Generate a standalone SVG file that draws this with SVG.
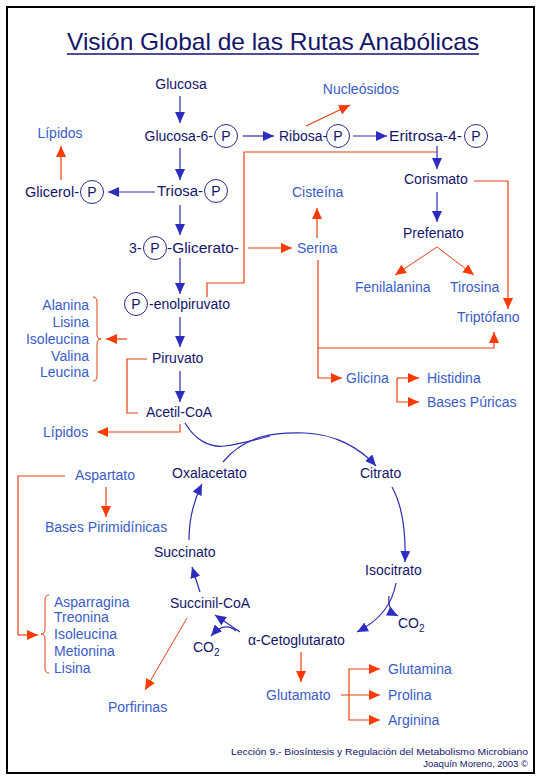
<svg xmlns="http://www.w3.org/2000/svg" width="540" height="780" viewBox="0 0 540 780">
<style>
text{font-family:"Liberation Sans",Arial,sans-serif;font-size:14px}
.d{fill:#14146a}
.l{fill:#3a5cc8}
.ft{fill:#14146a;font-size:9.5px}
.pc{fill:none;stroke:#2a2a88;stroke-width:1}
.b{fill:none;stroke:#2c2cb0;stroke-width:1.2}
.r{fill:none;stroke:#e8400f;stroke-width:1.2}
.rb{fill:none;stroke:#e8400f;stroke-width:1}
.ba{marker-end:url(#hb)}
.ra{marker-end:url(#hr)}
</style>
<defs>
<marker id="hb" markerUnits="userSpaceOnUse" markerWidth="11" markerHeight="10" refX="11" refY="5" orient="auto"><path d="M0,0 L11,5 L0,10 z" fill="#2c2cc0"/></marker>
<marker id="hr" markerUnits="userSpaceOnUse" markerWidth="11" markerHeight="10" refX="11" refY="5" orient="auto"><path d="M0,0 L11,5 L0,10 z" fill="#ff3a00"/></marker>
</defs>
<rect x="7" y="7" width="527" height="766" fill="#fff" stroke="#000" stroke-width="2"/>
<g id="title">
<text x="67" y="50" style="font-size:24px" class="d" textLength="412" lengthAdjust="spacingAndGlyphs">Visión Global de las Rutas Anabólicas</text>
<line x1="67" y1="54" x2="479" y2="54" stroke="#14146a" stroke-width="1.5"/>
</g>
<g id="connectors">
<path class="b ba" d="M180,96 V123"/>
<path class="b ba" d="M243,136 H274"/>
<path class="b ba" d="M353,136 H387"/>
<path class="r ra" d="M306,126 L350,105"/>
<path class="r ra" d="M61,180 V146"/>
<path class="b ba" d="M180,148 V180"/>
<path class="b ba" d="M155,192 H108"/>
<path class="b ba" d="M180,205 V235"/>
<path class="r ra" d="M248,248 H292"/>
<path class="r ra" d="M317,238 V208"/>
<path class="b ba" d="M180,258 V294"/>
<path class="r" d="M207,297 V283 H244 V152 H437"/>
<path class="b ba" d="M180,317 V347"/>
<path class="b ba" d="M180,371 V402"/>
<path class="r" d="M147,359 H127 V413 H138"/>
<path class="r ra" d="M127,339 H106"/>
<path class="r ra" d="M180,424 V432 H97"/>
<path class="b ba" d="M437,146 V169"/>
<path class="r ra" d="M474,181 H508 V309"/>
<path class="b ba" d="M437,192 V222"/>
<path class="rb ra" d="M437,247 L395,275"/>
<path class="rb ra" d="M437,247 L474,275"/>
<path class="r ra" d="M318,260 V348 H494 V332"/>
<path class="r ra" d="M318,348 V378 H342"/>
<path class="r ra" d="M397,378 H419"/>
<path class="r ra" d="M397,378 V402 H419"/>
<path class="b ba" d="M223,462 C245,435 275,432 305,433 C335,434 360,448 376,466"/>
<path class="b" d="M185,423 C195,440 210,448 225,446 C240,444 255,440 270,436"/>
<path class="b ba" d="M392,487 C402,505 406,530 405,562"/>
<path class="b ba" d="M396,583 C392,605 380,620 357,632"/>
<path class="b ba" d="M389,596 C388,605 390,612 398,616"/>
<path class="b ba" d="M240,632 L215,615"/>
<path class="b ba" d="M236,631 C228,624 220,626 211,636"/>
<path class="b ba" d="M200,592 L192,567"/>
<path class="b ba" d="M189,540 C189,520 194,500 202,484"/>
<path class="r" d="M65,476 H18 V635"/>
<path class="r ra" d="M18,635 H38"/>
<path class="r ra" d="M106,487 V517"/>
<path class="rb ra" d="M187,618 L145,690"/>
<path class="r ra" d="M301,652 V682"/>
<path class="r ra" d="M341,695 H380"/>
<path class="r ra" d="M349,695 V669 H380"/>
<path class="r ra" d="M349,695 V720 H380"/>
<path class="rb" d="M93,297 Q97,297 97,302 V334 Q97,339 101,339 Q97,339 97,344 V376 Q97,381 93,381"/>
<path class="rb" d="M49,595 Q45,595 45,600 V629 Q45,634 41,634 Q45,634 45,639 V668 Q45,673 49,673"/>
</g>
<g id="glucosa"><text class="d" x="181" y="89" text-anchor="middle">Glucosa</text></g>
<g id="glucosa6p"><text class="d" x="213" y="141" text-anchor="end">Glucosa-6-</text><circle class="pc" cx="226" cy="136" r="11.5"/><text class="d" x="226" y="141" text-anchor="middle">P</text></g>
<g id="ribosa"><text class="d" x="279" y="141">Ribosa-</text><circle class="pc" cx="338" cy="136" r="11.5"/><text class="d" x="338" y="141" text-anchor="middle">P</text></g>
<g id="eritrosa"><text class="d" x="389" y="141" textLength="73" lengthAdjust="spacingAndGlyphs">Eritrosa-4-</text><circle class="pc" cx="476" cy="136" r="11.5"/><text class="d" x="476" y="141" text-anchor="middle">P</text></g>
<g id="nucleosidos"><text class="l" x="361" y="94" text-anchor="middle">Nucleósidos</text></g>
<g id="lipidos1"><text class="l" x="60" y="138" text-anchor="middle">Lípidos</text></g>
<g id="triosa"><text class="d" x="157" y="196" textLength="46" lengthAdjust="spacingAndGlyphs">Triosa-</text><circle class="pc" cx="216" cy="191" r="11.5"/><text class="d" x="216" y="196" text-anchor="middle">P</text></g>
<g id="glicerol"><text class="d" x="25" y="197" textLength="54" lengthAdjust="spacingAndGlyphs">Glicerol-</text><circle class="pc" cx="92" cy="192" r="11.5"/><text class="d" x="92" y="197" text-anchor="middle">P</text></g>
<g id="glicerato"><text class="d" x="129" y="253">3-</text><circle class="pc" cx="155" cy="248" r="11.5"/><text class="d" x="155" y="253" text-anchor="middle">P</text><text class="d" x="167" y="253" textLength="72" lengthAdjust="spacingAndGlyphs">-Glicerato-</text></g>
<g id="serina"><text class="l" x="297" y="253">Serina</text></g>
<g id="cisteina"><text class="l" x="292" y="197">Cisteína</text></g>
<g id="pep"><circle class="pc" cx="136" cy="304" r="11.5"/><text class="d" x="136" y="309" text-anchor="middle">P</text><text class="d" x="149" y="309">-enolpiruvato</text></g>
<g id="piruvato"><text class="d" x="152" y="363">Piruvato</text></g>
<g id="acetilcoa"><text class="d" x="146" y="417">Acetil-CoA</text></g>
<g id="aa1"><text class="l" x="89" y="310" text-anchor="end">Alanina</text><text class="l" x="89" y="327" text-anchor="end">Lisina</text><text class="l" x="89" y="344" text-anchor="end">Isoleucina</text><text class="l" x="89" y="361" text-anchor="end">Valina</text><text class="l" x="89" y="377" text-anchor="end">Leucina</text></g>
<g id="lipidos2"><text class="l" x="43" y="437">Lípidos</text></g>
<g id="corismato"><text class="d" x="404" y="184">Corismato</text></g>
<g id="prefenato"><text class="d" x="403" y="238">Prefenato</text></g>
<g id="fenilalanina"><text class="l" x="355" y="292">Fenilalanina</text></g>
<g id="tirosina"><text class="l" x="450" y="292">Tirosina</text></g>
<g id="triptofano"><text class="l" x="457" y="322">Triptófano</text></g>
<g id="glicina"><text class="l" x="346" y="383">Glicina</text></g>
<g id="histidina"><text class="l" x="427" y="383">Histidina</text></g>
<g id="basespuricas"><text class="l" x="427" y="407">Bases Púricas</text></g>
<g id="oxalacetato"><text class="d" x="172" y="478">Oxalacetato</text></g>
<g id="citrato"><text class="d" x="360" y="478">Citrato</text></g>
<g id="succinato"><text class="d" x="154" y="557">Succinato</text></g>
<g id="isocitrato"><text class="d" x="365" y="575">Isocitrato</text></g>
<g id="succinilcoa"><text class="d" x="170" y="608">Succinil-CoA</text></g>
<g id="cetoglutarato"><text class="d" x="248" y="645">α-Cetoglutarato</text></g>
<g id="co2a"><text class="d" x="398" y="628">CO<tspan dy="4" style="font-size:10px">2</tspan></text></g>
<g id="co2b"><text class="d" x="193" y="652">CO<tspan dy="4" style="font-size:10px">2</tspan></text></g>
<g id="aspartato"><text class="l" x="75" y="480">Aspartato</text></g>
<g id="basespirimidinicas"><text class="l" x="45" y="532">Bases Pirimidínicas</text></g>
<g id="aa2"><text class="l" x="54" y="607">Asparragina</text><text class="l" x="54" y="622">Treonina</text><text class="l" x="54" y="639">Isoleucina</text><text class="l" x="54" y="656">Metionina</text><text class="l" x="54" y="673">Lisina</text></g>
<g id="porfirinas"><text class="l" x="108" y="712">Porfirinas</text></g>
<g id="glutamato"><text class="l" x="266" y="700">Glutamato</text></g>
<g id="glutamina"><text class="l" x="388" y="674">Glutamina</text></g>
<g id="prolina"><text class="l" x="388" y="700">Prolina</text></g>
<g id="arginina"><text class="l" x="388" y="725">Arginina</text></g>
<g id="footer"><text class="ft" x="231" y="755" textLength="297" lengthAdjust="spacingAndGlyphs">Lección 9.- Biosíntesis y Regulación del Metabolismo Microbiano</text><text class="ft" x="528" y="767" text-anchor="end">Joaquín Moreno, 2003 ©</text></g>
</svg>
